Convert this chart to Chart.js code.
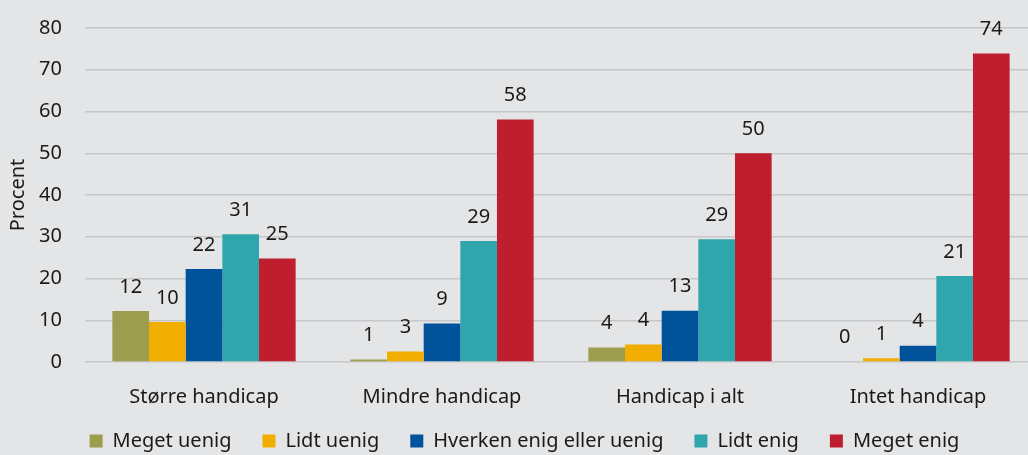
<!DOCTYPE html>
<html>
<head>
<meta charset="utf-8">
<script src="https://cdn.jsdelivr.net/npm/chart.js@4/dist/chart.umd.min.js"></script>
<style>
html,body{margin:0;padding:0;background:#E4E5E7;overflow:hidden;width:1028px;height:455px;}
#wrap{width:1040px;height:455px;}
</style>
</head>
<body>
<div id="wrap"><canvas id="c" width="1040" height="455"></canvas></div>
<script>
const categories = ['Større handicap', 'Mindre handicap', 'Handicap i alt', 'Intet handicap'];
const seriesNames = ['Meget uenig', 'Lidt uenig', 'Hverken enig eller uenig', 'Lidt enig', 'Meget enig'];
const megetUenig = [12.2, 0.6, 3.5, 0.2];
const lidtUenig = [9.6, 2.5, 4.2, 0.9];
const hverken = [22.3, 9.2, 12.3, 3.9];
const lidtEnig = [30.6, 29.0, 29.4, 20.6];
const megetEnig = [24.8, 58.1, 50.0, 73.9];
const megetUenigLabels = ['12', '1', '4', '0'];
const lidtUenigLabels = ['10', '3', '4', '1'];
const hverkenLabels = ['22', '9', '13', '4'];
const lidtEnigLabels = ['31', '29', '29', '21'];
const megetEnigLabels = ['25', '58', '50', '74'];
const yTicks = [0, 10, 20, 30, 40, 50, 60, 70, 80];

const colors = ['#9C9D4F', '#F2AE00', '#00529B', '#2FA6AB', '#BE1E2D'];
const values = [megetUenig, lidtUenig, hverken, lidtEnig, megetEnig];
const labelSets = [megetUenigLabels, lidtUenigLabels, hverkenLabels, lidtEnigLabels, megetEnigLabels];
const FONT = '"Noto Sans", "Open Sans", sans-serif';
const FS = 20;

const barLabels = {
  id: 'barLabels',
  afterDatasetsDraw(chart) {
    const ctx = chart.ctx;
    ctx.save();
    ctx.font = FS + 'px ' + FONT;
    ctx.fillStyle = '#1A1A1A';
    ctx.textAlign = 'center';
    ctx.textBaseline = 'middle';
    chart.data.datasets.forEach((ds, i) => {
      chart.getDatasetMeta(i).data.forEach((bar, j) => {
        ctx.fillText(ds.valueLabels[j], bar.x, bar.y - 24);
      });
    });
    ctx.restore();
  }
};
const bg = {
  id: 'bg',
  beforeDraw(chart) {
    const ctx = chart.ctx;
    ctx.save();
    ctx.fillStyle = '#E4E5E7';
    ctx.fillRect(0, 0, chart.width, chart.height);
    ctx.restore();
  }
};
const legendSize = {
  id: 'legendSize',
  beforeLayout(chart) {
    const lg = chart.legend;
    if (lg && !lg._patched) {
      const orig = lg.fit.bind(lg);
      lg.fit = function () { orig(); this.height = 47; };
      lg._patched = true;
    }
  },
  afterLayout(chart) {
    const lg = chart.legend;
    if (lg) {
      lg.top -= 8;
      lg.left += 6; lg.right += 6;
    }
  }
};

new Chart(document.getElementById('c'), {
  type: 'bar',
  data: {
    labels: categories,
    datasets: seriesNames.map((n, i) => ({
      label: n,
      data: values[i],
      valueLabels: labelSets[i],
      backgroundColor: colors[i],
      borderWidth: 0,
      barPercentage: 1,
      categoryPercentage: 0.77
    }))
  },
  options: {
    responsive: false,
    animation: false,
    devicePixelRatio: 1,
    layout: { padding: { left: 0, right: 3, top: 28, bottom: 0 } },
    plugins: {
      legend: {
        position: 'bottom',
        labels: {
          boxWidth: 13, boxHeight: 13, padding: 31,
          color: '#1A1A1A',
          font: { family: FONT, size: FS }
        }
      },
      tooltip: { enabled: false }
    },
    scales: {
      x: {
        grid: { display: false },
        border: { display: false },
        ticks: { color: '#1A1A1A', padding: 15, font: { family: FONT, size: FS } },
        afterFit(s) { s.height = 46; }
      },
      y: {
        min: 0, max: 80,
        afterBuildTicks(s) { s.ticks = yTicks.map(v => ({ value: v })); },
        grid: { color: '#C6C7C9', lineWidth: 1.5, drawTicks: false },
        border: { display: false },
        ticks: { color: '#1A1A1A', padding: 23, font: { family: FONT, size: FS } },
        title: { display: true, text: 'Procent', color: '#1A1A1A', padding: { top: 6, bottom: 0 }, font: { family: FONT, size: FS } },
        afterFit(s) { s.width = 85; s.paddingTop = 0; s.paddingBottom = 0; }
      }
    }
  },
  plugins: [bg, legendSize, barLabels]
});
</script>
</body>
</html>
